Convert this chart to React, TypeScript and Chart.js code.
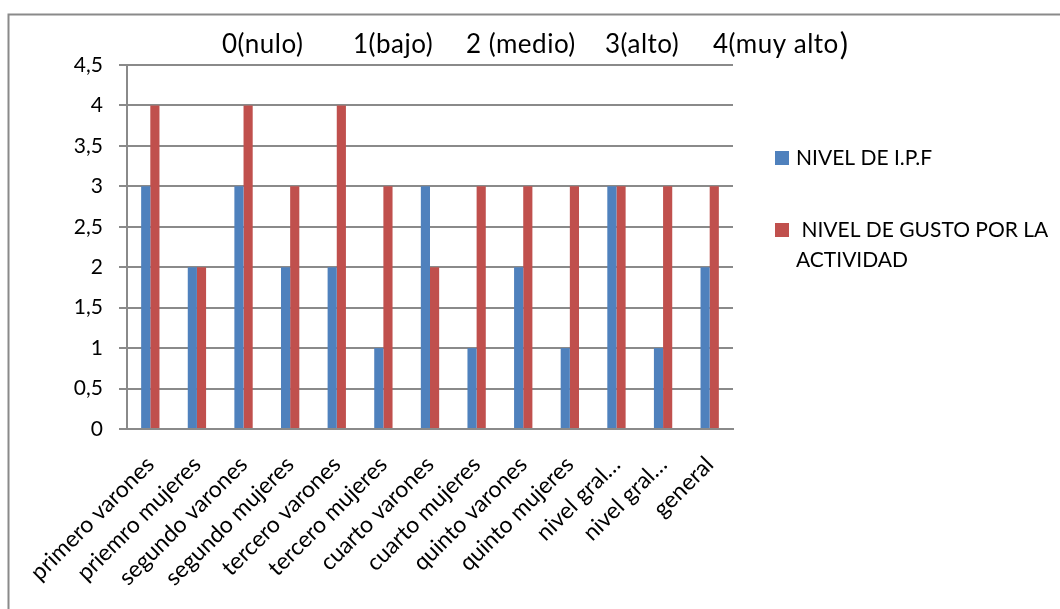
import React, { useEffect, useRef } from "react";
import { Chart, registerables } from "chart.js";

Chart.register(...registerables);

const categories = [
  "primero varones",
  "priemro mujeres",
  "segundo varones",
  "segundo mujeres",
  "tercero varones",
  "tercero mujeres",
  "cuarto varones",
  "cuarto mujeres",
  "quinto varones",
  "quinto mujeres",
  "nivel gral…",
  "nivel gral…",
  "general",
];
const ipfValues = [3, 2, 3, 2, 2, 1, 3, 1, 2, 1, 3, 1, 2];
const gustoValues = [4, 2, 4, 3, 4, 3, 2, 3, 3, 3, 3, 3, 3];
const seriesNames = ["NIVEL DE I.P.F", "NIVEL DE GUSTO POR LA ACTIVIDAD"];
const legendLines = [["NIVEL DE I.P.F"], [" NIVEL DE GUSTO POR LA", "ACTIVIDAD"]];
const yMin = 0;
const yMax = 4.5;
const yStep = 0.5;
const scaleLegendParts = ["0(nulo)", "1(bajo)", "2 (medio)", "3(alto)", "4(muy alto"];
const scaleLegendClose = ")";

const BLUE = "#4F81BD";
const RED = "#C0504D";
const GRID = "#8a8a8a";
const FONT = "Lato, 'Open Sans', sans-serif";

const decorPlugin = {
  id: "decor",
  afterDraw(chart: any) {
    const ctx = chart.ctx as CanvasRenderingContext2D;
    const W = chart.width;
    const H = chart.height;
    ctx.save();
    // outer frame (left + top)
    ctx.strokeStyle = GRID;
    ctx.lineWidth = 2;
    ctx.beginPath();
    ctx.moveTo(8.5, H + 2);
    ctx.lineTo(8.5, 14.5);
    ctx.lineTo(W + 2, 14.5);
    ctx.stroke();

    // scale legend text on top
    ctx.fillStyle = "#000";
    ctx.textBaseline = "alphabetic";
    ctx.textAlign = "left";
    ctx.font = `26px ${FONT}`;
    (ctx as any).letterSpacing = "0.5px";
    const xs = [222, 353, 466, 605, 713];
    let endX = 0;
    scaleLegendParts.forEach((t, i) => {
      ctx.fillText(t, xs[i], 53);
      endX = xs[i] + ctx.measureText(t).width;
    });
    ctx.font = `31px ${FONT}`;
    ctx.fillText(scaleLegendClose, endX + 1, 55);
    (ctx as any).letterSpacing = "0px";

    // legend
    const colors = [BLUE, RED];
    const boxY = [151, 223];
    const textY = [[158], [230, 260]];
    ctx.font = `21px ${FONT}`;
    ctx.textBaseline = "middle";
    legendLines.forEach((lines, i) => {
      ctx.fillStyle = colors[i];
      ctx.fillRect(775, boxY[i], 14, 14);
      ctx.fillStyle = "#000";
      lines.forEach((ln, j) => {
        ctx.fillText(ln, 796, textY[i][j]);
      });
    });
    ctx.restore();
  },
};

export default function App() {
  const ref = useRef<HTMLCanvasElement | null>(null);
  useEffect(() => {
    if (!ref.current) return;
    const chart = new Chart(ref.current, {
      type: "bar",
      data: {
        labels: categories,
        datasets: [
          {
            label: seriesNames[0],
            data: ipfValues,
            backgroundColor: BLUE,
            borderWidth: 0,
            categoryPercentage: 0.393,
            barPercentage: 1,
          },
          {
            label: seriesNames[1],
            data: gustoValues,
            backgroundColor: RED,
            borderWidth: 0,
            categoryPercentage: 0.393,
            barPercentage: 1,
          },
        ],
      },
      options: {
        animation: false,
        responsive: false,
        maintainAspectRatio: false,
        layout: { padding: { left: 0, right: 327, top: 65, bottom: 0 } },
        plugins: {
          legend: { display: false },
          tooltip: { enabled: false },
          title: { display: false },
        },
        scales: {
          x: {
            grid: { display: false, drawTicks: false },
            border: { display: true, color: GRID, width: 2 },
            ticks: {
              autoSkip: false,
              maxRotation: 45,
              minRotation: 45,
              padding: 22,
              color: "#000",
              font: { family: FONT, size: 23 },
            },
            afterFit(scale: any) {
              scale.height = 180;
            },
          },
          y: {
            min: yMin,
            max: yMax,
            ticks: {
              stepSize: yStep,
              padding: 16,
              color: "#000",
              font: { family: FONT, size: 21 },
              callback: (v: any) => String(v).replace(".", ","),
            },
            grid: { color: GRID, lineWidth: 2, tickLength: 8, drawTicks: true },
            border: { display: true, color: GRID, width: 2 },
            afterFit(scale: any) {
              scale.width = 127;
            },
          },
        },
      },
      plugins: [decorPlugin],
    });
    return () => chart.destroy();
  }, []);
  return (
    <div style={{ position: "fixed", left: 0, top: 0, width: 1060, height: 609, background: "#fff" }}>
      <canvas ref={ref} width={1060} height={609} style={{ display: "block" }} />
    </div>
  );
}
